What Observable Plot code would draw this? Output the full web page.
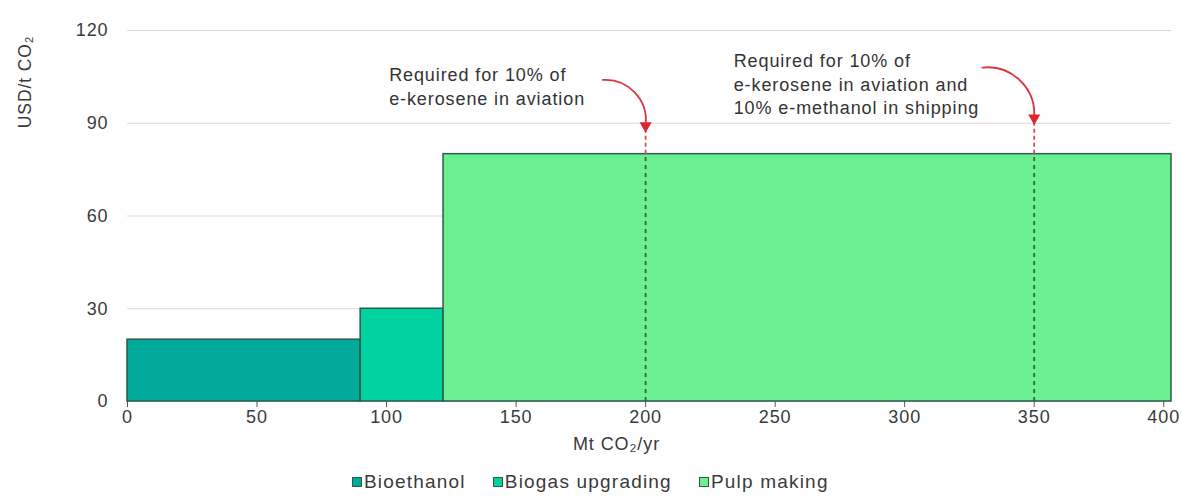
<!DOCTYPE html>
<html>
<head>
<meta charset="utf-8">
<script src="https://cdn.jsdelivr.net/npm/d3@7"></script>
<script src="https://cdn.jsdelivr.net/npm/@observablehq/plot@0.6"></script>
<style>
  html, body { margin: 0; padding: 0; background: #fff; }
  body { width: 1182px; height: 497px; overflow: hidden; font-family: "Liberation Sans", Arial, sans-serif; }
  #legend { display: flex; align-items: center; margin-left: 352px; margin-top: 11px; font-size: 19px; letter-spacing: 1.2px; color: #3a3a3a; }
  .item { display: flex; align-items: center; margin-right: 27px; }
  .sw { width: 8px; height: 8px; border: 1px solid #2d5a4a; margin-right: 2px; }
</style>
</head>
<body>
<div id="chart"></div>
<div id="legend"></div>
<script>
// ---- data ----
const categories = ["Bioethanol", "Biogas upgrading", "Pulp making"];
const capacityStart = [0, 90, 122];      // Mt CO2/yr
const capacityEnd = [90, 122, 403];      // Mt CO2/yr
const costs = [20, 30, 80];              // USD/t CO2
const colors = ["#00a99a", "#00d3a0", "#6cef91"];
const xTicks = [0, 50, 100, 150, 200, 250, 300, 350, 400];
const yTicks = [0, 30, 60, 90, 120];
const thresholds = [200, 350];
const thresholdLabels = ["Required for 10% of\ne-kerosene in aviation", "Required for 10% of\ne-kerosene in aviation and\n10% e-methanol in shipping"];
const labelX = [101, 234];
const labelY = [109, 113.5];
const arrowStartX = [183.5, 330];
const arrowStartY = [104, 108];
const arrowEndY = [89.5, 92];

const bars = categories.map((c, i) => ({category: c, x1: capacityStart[i], x2: capacityEnd[i], y: costs[i]}));
const lines = thresholds.map((t, i) => ({x: t, text: thresholdLabels[i], lx: labelX[i], ly: labelY[i], ax: arrowStartX[i], ay: arrowStartY[i], ey: arrowEndY[i]}));

const chart = Plot.plot({
  width: 1182,
  height: 460,
  marginTop: 30,
  marginBottom: 59,
  marginLeft: 127,
  marginRight: 11,
  style: {fontFamily: '"Liberation Sans", Arial, sans-serif', fontSize: "18px", letterSpacing: "0.9px", color: "#3a3a3a", background: "#fff"},
  x: {domain: [0, 403], ticks: xTicks, label: null},
  y: {domain: [0, 120], ticks: yTicks, label: null},
  color: {domain: categories, range: colors},
  marks: [
    Plot.gridY(yTicks, {stroke: "#d9d9d9", strokeOpacity: 1, strokeWidth: 1.2}),
    Plot.axisY({ticks: yTicks, tickSize: 0, tickPadding: 19, label: null, fontSize: 18}),
    Plot.axisX({ticks: xTicks, tickSize: 6, tickPadding: 3, label: null, stroke: "#555", fontSize: 18}),
    Plot.rectY(bars, {x1: "x1", x2: "x2", y: "y", fill: "category", stroke: "#2d5a4a", strokeWidth: 1.5}),
    Plot.ruleX(lines, {x: "x", y1: 0, y2: 80, stroke: "#2f6a46", strokeWidth: 1.8, strokeDasharray: "4,4"}),
    Plot.ruleX(lines, {x: "x", y1: 80, y2: "ey", stroke: "#e0485a", strokeWidth: 1.8, strokeDasharray: "4,3"}),
    Plot.arrow(lines, {x1: "ax", y1: "ay", x2: "x", y2: "ey", bend: 50, stroke: "#d9363e", strokeWidth: 1.8, headLength: 0}),
    Plot.dot(lines, {x: "x", y: "ey", symbol: "triangle", rotate: 180, r: 4.5, fill: "#e0242e", stroke: "none", dy: 1}),
    Plot.text(lines, {x: "lx", y: "ly", text: "text", textAnchor: "start", lineAnchor: "top", lineHeight: 1.3, fontSize: 18, fill: "#333"}),
    Plot.text(["USD/t CO₂"], {frameAnchor: "top-left", rotate: -90, textAnchor: "end", lineAnchor: "middle", dx: -102, dy: 5, fontSize: 17.5, fill: "#3a3a3a"}),
    Plot.text(["Mt CO₂/yr"], {frameAnchor: "bottom", textAnchor: "middle", lineAnchor: "middle", dx: -33, dy: 43, fontSize: 18, fill: "#3a3a3a"})
  ]
});
document.getElementById("chart").appendChild(chart);

const legend = document.getElementById("legend");
categories.forEach((c, i) => {
  const item = document.createElement("div");
  item.className = "item";
  const sw = document.createElement("div");
  sw.className = "sw";
  sw.style.background = colors[i];
  const t = document.createElement("span");
  t.textContent = c;
  item.appendChild(sw);
  item.appendChild(t);
  legend.appendChild(item);
});
</script>
</body>
</html>
